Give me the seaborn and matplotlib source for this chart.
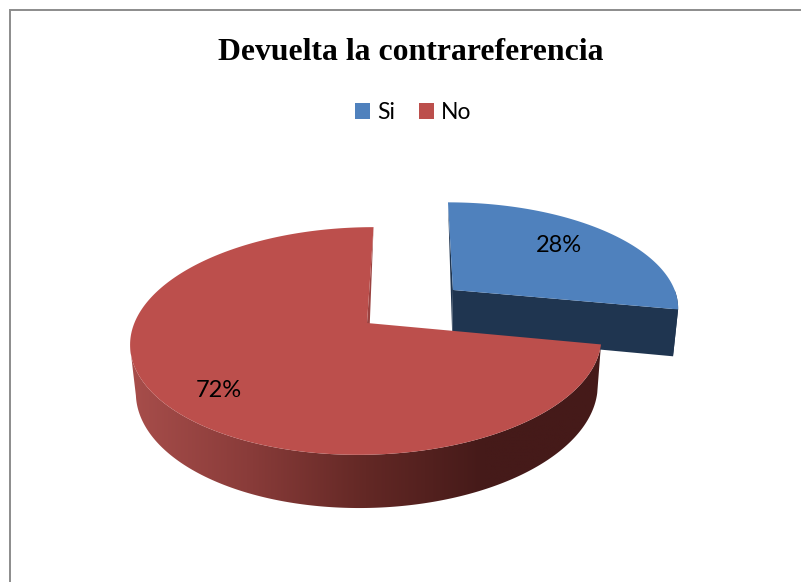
import numpy as np
import matplotlib
matplotlib.use("Agg")
import matplotlib.pyplot as plt
from matplotlib.patches import Patch, Polygon
import seaborn as sns

title = "Devuelta la contrareferencia"
categories = ["Si", "No"]
values = [28, 72]

TOP_COLORS = ["#4F81BD", "#BC4F4C"]
BLUE_SIDE = "#1F3550"
RED_CUT = "#9A4240"

sns.set_theme(style="white")
plt.rcParams["font.family"] = ["Lato", "DejaVu Sans"]

# Perspective camera for the tilted pie, in figure pixels
VANISH_X, PLANE_Y = 415.0, 323.0
TILT_K, DEPTH_Q = 0.158, 0.02
RADIUS_X, RADIUS_Y = 232.6, 111.0
THICKNESS = 48.5
PIE_X0 = -48.0
EXPLODE = 0.49
WALL_END = np.radians(258)  # where the outer wall meets the left silhouette


def project(X, Y, Z=0.0):
    w = 1 + TILT_K * Y + DEPTH_Q * Z
    return VANISH_X + X / w, PLANE_Y + (-RADIUS_Y * Y + THICKNESS * Z) / w


def rim(theta, offset, r=1.0):
    """World coordinates on a slice's rim; theta runs clockwise from 12 o'clock."""
    return (PIE_X0 + offset[0] + r * RADIUS_X * np.sin(theta),
            offset[1] + r * np.cos(theta))


def outline(a0, a1, offset, n=240):
    th = np.linspace(a0, a1, n)
    rx, ry = rim(th, offset)
    ax_, ay_ = project(PIE_X0 + offset[0], offset[1])
    px, py = project(rx, ry)
    return np.column_stack([np.r_[ax_, px], np.r_[ay_, py]])


def wall(a0, a1, offset, n=240):
    th = np.linspace(a0, a1, n)
    rx, ry = rim(th, offset)
    tx, ty = project(rx, ry)
    bx, by = project(rx, ry, 1.0)
    return np.column_stack([np.r_[tx, bx[::-1]], np.r_[ty, by[::-1]]])


def cut_face(theta, offset, far_edge=False):
    """Radial cut face; on a far edge only the sliver down to the hub shows."""
    cx, cy = PIE_X0 + offset[0], offset[1]
    rx, ry = rim(theta, offset)
    if far_edge:
        return np.array([project(cx, cy), project(rx, ry), project(cx, cy, 1.0)])
    return np.array([project(cx, cy), project(rx, ry),
                     project(rx, ry, 1.0), project(cx, cy, 1.0)])


fig = plt.figure(figsize=(8.01, 5.82), dpi=100, facecolor="white")
ax = fig.add_axes([0, 0, 1, 1])
ax.set_xlim(0, 801)
ax.set_ylim(582, 0)
ax.axis("off")

# Chart frame: only the top and left edges fall inside the canvas
ax.plot([10, 10, 801], [582, 10, 10], color="#8C8C8C", lw=1.4,
        solid_joinstyle="miter")

angles = np.cumsum([0] + values) / sum(values) * 2 * np.pi
mid = (angles[:-1] + angles[1:]) / 2
offsets = [(EXPLODE * RADIUS_X * np.sin(mid[0]), EXPLODE * np.cos(mid[0])), (0.0, 0.0)]

# Blue slice: dark wall and cut faces, then its top
blue_a0, blue_a1 = angles[0], angles[1]
ax.add_patch(Polygon(wall(np.pi / 2, blue_a1, offsets[0]), fc=BLUE_SIDE, ec="none"))
ax.add_patch(Polygon(cut_face(blue_a1, offsets[0]), fc=BLUE_SIDE, ec="none"))
ax.add_patch(Polygon(cut_face(blue_a0, offsets[0], far_edge=True), fc=BLUE_SIDE, ec="none"))
ax.add_patch(Polygon(outline(blue_a0, blue_a1, offsets[0]), fc=TOP_COLORS[0], ec="none"))

# Red slice: outer wall filled with a left-to-right shade, clipped to its outline
red_a0, red_a1 = angles[1], angles[2]
shade = sns.blend_palette(["#A84E4B", "#8A3C3A", "#632825", "#451A19", "#451A19"], as_cmap=True)
wall_patch = Polygon(wall(red_a0, WALL_END, offsets[1]), fc="none", ec="none")
ax.add_patch(wall_patch)
gradient = ax.imshow(np.linspace(0, 1, 256)[None, :], cmap=shade, aspect="auto",
                     extent=(128, 603, 520, 330), interpolation="bilinear")
gradient.set_clip_path(wall_patch)
ax.set_xlim(0, 801)
ax.set_ylim(582, 0)
ax.add_patch(Polygon(cut_face(red_a1, offsets[1], far_edge=True), fc=RED_CUT, ec="none"))
ax.add_patch(Polygon(outline(red_a0, red_a1, offsets[1]), fc=TOP_COLORS[1], ec="none"))

# Percentage labels sit along each slice's middle angle
label_r = [0.70, 0.75]
label_nudge = [(-4, -2), (1, 10)]
for m, off, r, nudge, v in zip(mid, offsets, label_r, label_nudge, values):
    px, py = project(*rim(m, off, r))
    ax.text(px + nudge[0], py + nudge[1], f"{v}%", ha="center", va="center",
            fontsize=17, color="black")

ax.text(411, 52, title, ha="center", va="center", fontsize=22.9, fontweight="bold",
        family="Liberation Serif", color="black")

handles = [Patch(fc=c, ec="none", label=l) for c, l in zip(TOP_COLORS, categories)]
ax.legend(handles=handles, ncol=2, loc="center", bbox_to_anchor=(413, 112.5),
          bbox_transform=ax.transData, frameon=False, fontsize=16.5,
          handlelength=0.66, handleheight=0.66, handletextpad=0.3,
          columnspacing=1.05, borderpad=0, labelcolor="black")

fig.savefig("out.png", dpi=100, facecolor="white")
